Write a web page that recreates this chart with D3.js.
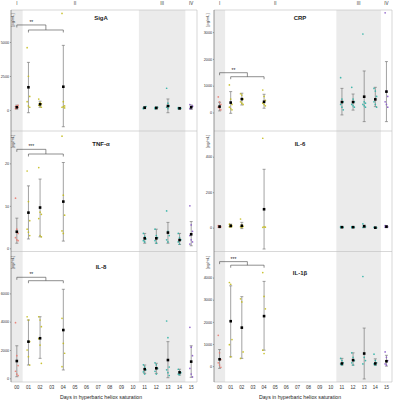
<!DOCTYPE html>
<html>
<head>
<meta charset="utf-8">
<script src="https://cdn.jsdelivr.net/npm/d3@7"></script>
<style>
  body { margin: 0; background: #fff; }
  svg { display: block; font-family: "Liberation Sans", Arial, sans-serif; }
</style>
</head>
<body>
<div id="chart"></div>
<script>
// days that were sampled, and the phase labels
const days = [0, 1, 2, 4, 11, 12, 13, 14, 15];
const dayLabels = d3.range(16).map(d => d3.format("02")(d));
const phaseLabels = ["I", "II", "III", "IV"];
const phaseColors = ["#ea7b70", "#c4bc1e", "#2fb3a6", "#8b5cc9"];

// SigA
const sigaMean = [200, 1670, 420, 1710, 170, 150, 290, 125, 200];
const sigaLo = [60, -200, 200, -1230, 90, 80, -200, 60, 40];
const sigaHi = [360, 3500, 650, 4750, 250, 230, 810, 190, 370];
const sigaPts = [[100, 150, 200, 250, 300, 350], [4580, 2480, 1000, 610, 300, 200], [800, 550, 450, 350, 300, 200],
  [7100, 610, 300, 200, 250, 150], [150, 200, 250, 100, 180], [100, 150, 200, 180, 120], [1600, 500, 300, 200, 100],
  [100, 150, 120, 180], [100, 200, 300, 400, 150, 250]];
const sigaTicks = [0, 2500, 5000];

// CRP
const crpMean = [220, 370, 500, 400, 390, 390, 590, 490, 780];
const crpLo = [60, -30, 280, 160, -90, 90, -340, 220, -340];
const crpHi = [380, 780, 720, 680, 900, 690, 1550, 940, 1900];
const crpPts = [[580, 400, 300, 200, 150, 100], [1030, 500, 300, 200, 150, 100], [700, 650, 500, 400, 350, 300],
  [840, 600, 450, 350, 300, 250], [1300, 500, 400, 300, 200, 100], [940, 500, 400, 300, 250, 200],
  [2930, 400, 350, 300, 250, 200], [900, 800, 600, 400, 300, 200], [3720, 800, 600, 400, 300, 200]];
const crpTicks = [0, 1000, 2000, 3000];

// TNF-a
const tnfMean = [3.9, 8.4, 9.6, 11.0, 2.35, 2.35, 3.7, 1.95, 3.3];
const tnfLo = [1.2, 2.2, 2.7, 1.7, 1.2, 1.2, 1.2, 0.9, 0.6];
const tnfHi = [7.1, 14.7, 16.3, 20.2, 3.5, 4.5, 6.1, 3.5, 6.3];
const tnfPts = [[11.8, 4.5, 3.5, 2.5, 2, 1.8], [18.2, 11, 6.5, 4.5, 3.8, 3], [19, 8.5, 8, 7, 3, 2.7],
  [26.4, 12.5, 7.8, 4.1, 3.5], [3.5, 2.8, 2.2, 1.8, 1.5], [4.5, 3, 2.5, 1.8, 1.2], [8.8, 4, 3, 2, 1.5],
  [3.5, 2.5, 2, 1.5, 1], [10, 5.5, 4, 3, 2, 1.5, 1]];
const tnfTicks = [0, 10, 20];

// IL-6
const il6Mean = [6, 11, 11, 104, 3, 3, 8, 0, 6];
const il6Lo = [0, 2, -5, -120, 0, 0, 0, -3, 0];
const il6Hi = [12, 20, 30, 329, 6, 6, 15, 3, 12];
const il6Pts = [[12, 8, 5, 3, 2], [20, 15, 10, 6, 4], [49, 15, 8, 5, 2], [504, 5, 3, 2], [6, 4, 2, 1],
  [5, 3, 2, 1], [22, 10, 5, 2], [2, 1, 0], [12, 8, 5, 3]];
const il6Ticks = [0, 200, 400];

// IL-8
const il8Mean = [1220, 2590, 2830, 3410, 640, 710, 1290, 420, 1180];
const il8Lo = [110, 940, 1410, 590, 350, 350, 40, 230, 70];
const il8Hi = [2300, 4120, 4350, 6290, 940, 1060, 2590, 640, 2300];
const il8Pts = [[3930, 1600, 900, 500, 300, 200], [4350, 4120, 2600, 2000, 1530, 940], [4350, 4120, 3650, 2800, 2350, 1060],
  [4240, 2470, 1770, 820], [950, 800, 600, 450, 300], [1100, 950, 700, 500, 300], [4050, 2870, 800, 600, 400, 200],
  [640, 500, 400, 300, 250], [3600, 2200, 1600, 700, 300, 100]];
const il8Ticks = [0, 2000, 4000, 6000];

// IL-1b
const il1bMean = [310, 2030, 1740, 2260, 120, 270, 570, 120, 220];
const il1bLo = [-100, 420, 350, 720, 45, 45, -580, 30, 0];
const il1bHi = [750, 3630, 3140, 3830, 350, 600, 1720, 330, 490];
const il1bPts = [[1390, 600, 300, 150, 50, -50], [3780, 3700, 1200, 970, 420], [3040, 2900, 640, 350],
  [4230, 3150, 2590, 720, 570], [350, 250, 150, 100, 50], [600, 400, 250, 150, 50], [4050, 400, 250, 100],
  [540, 250, 150, 100, 50], [640, 400, 250, 100, 50]];
const il1bTicks = [0, 1000, 2000, 3000, 4000];

const W = 394, H = 400;
const cols = [{x0: 11, x1: 197, labX: 13.5}, {x0: 214, x1: 392, labX: 208.5}];
const rows = [{y0: 10, y1: 131}, {y0: 131.5, y1: 251.5}, {y0: 252.5, y1: 382}];

const panels = [
  {title: "SigA", col: 0, row: 0, mean: sigaMean, lo: sigaLo, hi: sigaHi, pts: sigaPts, ticks: sigaTicks,
   domain: [-1544, 7350], sig: "**", br: [6250, 5880], titleDy: 10},
  {title: "CRP", col: 1, row: 0, mean: crpMean, lo: crpLo, hi: crpHi, pts: crpPts, ticks: crpTicks,
   domain: [-690, 3825], sig: "**", br: [1485, 1336], titleDy: 10},
  {title: "TNF-\u03b1", col: 0, row: 1, mean: tnfMean, lo: tnfLo, hi: tnfHi, pts: tnfPts, ticks: tnfTicks,
   domain: [-0.75, 27.5], sig: "***", br: [23.3, 22.2], titleDy: 14},
  {title: "IL-6", col: 1, row: 1, mean: il6Mean, lo: il6Lo, hi: il6Hi, pts: il6Pts, ticks: il6Ticks,
   domain: [-134, 542], sig: null, titleDy: 14},
  {title: "IL-8", col: 0, row: 2, mean: il8Mean, lo: il8Lo, hi: il8Hi, pts: il8Pts, ticks: il8Ticks,
   domain: [-261, 8890], sig: "**", br: [7138, 6898], titleDy: 16},
  {title: "IL-1\u03b2", col: 1, row: 2, mean: il1bMean, lo: il1bLo, hi: il1bHi, pts: il1bPts, ticks: il1bTicks,
   domain: [-717, 5135], sig: "***", br: [4722, 4561], titleDy: 22}
];

const svg = d3.select("#chart").append("svg")
  .attr("width", W)
  .attr("height", H);

const phaseOf = d => d === 0 ? 0 : d <= 10 ? 1 : d <= 14 ? 2 : 3;

cols.forEach((c, ci) => {
  const x = d3.scaleBand().domain(d3.range(16)).range([c.x0, c.x1]);
  const cx = d => x(d) + x.bandwidth() / 2;

  // phase shading over the whole column
  [[0, 0], [11, 14]].forEach(([a, b]) => {
    svg.append("rect")
      .attr("x", x(a)).attr("y", rows[0].y0)
      .attr("width", x(b) + x.bandwidth() - x(a))
      .attr("height", rows[2].y1 - rows[0].y0)
      .attr("fill", "#ebebeb");
  });

  // roman numerals on top
  const phasePos = [0, 5, 12.5, 15];
  phaseLabels.forEach((p, i) => {
    svg.append("text")
      .attr("x", x(0) + (phasePos[i] + 0.5) * x.bandwidth())
      .attr("y", 5)
      .attr("text-anchor", "middle")
      .attr("font-size", 4.5)
      .attr("fill", "#333")
      .text(p);
  });

  // x axis labels on the bottom row
  svg.append("g").selectAll("text")
    .data(d3.range(16))
    .enter().append("text")
    .attr("x", d => cx(d))
    .attr("y", 389)
    .attr("text-anchor", "middle")
    .attr("font-size", 4.5)
    .attr("fill", "#333")
    .text(d => dayLabels[d]);

  svg.append("text")
    .attr("x", (c.x0 + c.x1) / 2 - 3)
    .attr("y", 398.5)
    .attr("text-anchor", "middle")
    .attr("font-size", 5.2)
    .attr("fill", "#222")
    .text("Days in hyperbaric heliox saturation");
});

// panel borders
[rows[0].y0, rows[0].y1, rows[1].y1, rows[2].y1].forEach(yy => {
  cols.forEach(c => {
    svg.append("line")
      .attr("x1", c.x0).attr("x2", c.x1)
      .attr("y1", yy).attr("y2", yy)
      .attr("stroke", "#bdbdbd").attr("stroke-width", 0.6);
  });
});
cols.forEach(c => {
  [c.x0, c.x1].forEach(xx => {
    svg.append("line")
      .attr("x1", xx).attr("x2", xx)
      .attr("y1", rows[0].y0).attr("y2", rows[2].y1)
      .attr("stroke", xx === c.x0 ? "#555" : "#bdbdbd").attr("stroke-width", 0.6);
  });
});

panels.forEach(p => {
  const c = cols[p.col], r = rows[p.row];
  const x = d3.scaleBand().domain(d3.range(16)).range([c.x0, c.x1]);
  const cx = d => x(d) + x.bandwidth() / 2;
  const y = d3.scaleLinear().domain(p.domain).range([r.y1, r.y0]);
  const g = svg.append("g");

  // y axis
  const axis = g.append("g")
    .attr("transform", `translate(${c.x0},0)`)
    .call(d3.axisLeft(y).tickValues(p.ticks).tickFormat(d3.format("d")).tickSize(1).tickPadding(0.8));
  axis.select(".domain").remove();
  axis.selectAll("line").attr("stroke", "#555").attr("stroke-width", 0.5);
  axis.selectAll("text").attr("font-size", 3.8).attr("fill", "#333")
    .attr("font-family", "Liberation Sans, Arial, sans-serif");

  g.append("text")
    .attr("transform", `translate(${c.labX},${r.y0 + 10}) rotate(-90)`)
    .attr("text-anchor", "middle")
    .attr("font-size", 4)
    .attr("fill", "#333")
    .text("[pg/mL]");

  // title
  g.append("text")
    .attr("x", (c.x0 + c.x1) / 2 - 3)
    .attr("y", r.y0 + p.titleDy)
    .attr("text-anchor", "middle")
    .attr("font-size", 6)
    .attr("font-weight", "bold")
    .attr("fill", "#222")
    .text(p.title);

  // error bars
  days.forEach((d, i) => {
    const xx = cx(d);
    g.append("line")
      .attr("x1", xx).attr("x2", xx)
      .attr("y1", y(p.lo[i])).attr("y2", y(p.hi[i]))
      .attr("stroke", "#7a7a7a").attr("stroke-width", 0.7);
    [p.lo[i], p.hi[i]].forEach(v => {
      g.append("line")
        .attr("x1", xx - 1.5).attr("x2", xx + 1.5)
        .attr("y1", y(v)).attr("y2", y(v))
        .attr("stroke", "#7a7a7a").attr("stroke-width", 0.7);
    });
  });

  // individual values
  days.forEach((d, i) => {
    g.selectAll(null)
      .data(p.pts[i])
      .enter().append("circle")
      .attr("cx", (v, j) => cx(d) + ((j % 3) - 1) * 1.3)
      .attr("cy", v => y(v))
      .attr("r", 0.85)
      .attr("fill", phaseColors[phaseOf(d)])
      .attr("opacity", 0.9);
  });

  // means
  g.selectAll(null)
    .data(days)
    .enter().append("rect")
    .attr("x", d => cx(d) - 1.3)
    .attr("y", (d, i) => y(p.mean[i]) - 1.3)
    .attr("width", 2.6).attr("height", 2.6)
    .attr("fill", "#000");

  // significance brackets
  if (p.sig) {
    const y1 = y(p.br[0]), y2 = y(p.br[1]);
    const xa = cx(0), xb = cx(1), xc = cx(4), xm = (xb + xc) / 2;
    const br = g.append("g").attr("fill", "none").attr("stroke", "#444").attr("stroke-width", 0.6);
    br.append("path").attr("d", `M${xa},${y1 + 2.5}V${y1}H${xm}V${y2}`);
    br.append("path").attr("d", `M${xb},${y2 + 2.5}V${y2}H${xc}V${y2 + 2.5}`);
    g.append("text")
      .attr("x", (xa + xm) / 2)
      .attr("y", y1 - 1)
      .attr("text-anchor", "middle")
      .attr("font-size", 5)
      .attr("fill", "#222")
      .text(p.sig);
  }
});
</script>
</body>
</html>
